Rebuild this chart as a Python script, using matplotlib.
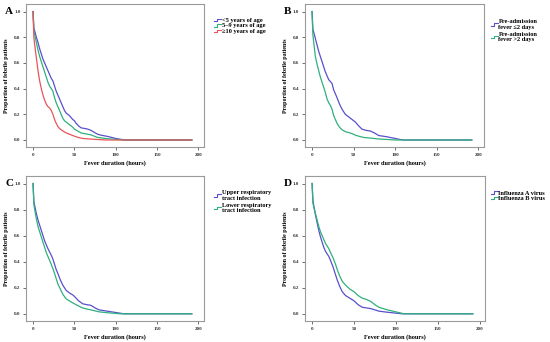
import matplotlib
matplotlib.use("Agg")
import matplotlib.pyplot as plt
from matplotlib.legend_handler import HandlerBase
from matplotlib.lines import Line2D

# ---------------- data ----------------
# Panel A: age groups
a_blue_t = [0, 1, 2, 4, 6, 8, 10, 12, 14, 16, 18, 20, 22, 24, 26, 28, 30, 32, 34, 36, 38, 40, 44, 48, 50, 52, 55, 58, 62, 66, 70, 74, 78, 82, 86, 90, 95, 100, 105, 110, 115, 192]
a_blue_s = [1.0, 0.87, 0.85, 0.80, 0.76, 0.71, 0.67, 0.63, 0.60, 0.57, 0.54, 0.51, 0.48, 0.46, 0.42, 0.38, 0.35, 0.32, 0.29, 0.26, 0.23, 0.21, 0.19, 0.16, 0.15, 0.13, 0.11, 0.095, 0.09, 0.085, 0.075, 0.06, 0.045, 0.038, 0.033, 0.028, 0.02, 0.012, 0.006, 0.002, 0.0, 0.0]
a_green_t = [0, 1, 2, 4, 6, 8, 10, 12, 14, 16, 18, 20, 22, 24, 26, 28, 30, 32, 34, 36, 38, 40, 44, 48, 50, 54, 58, 62, 66, 70, 74, 78, 84, 90, 100, 110, 192]
a_green_s = [1.0, 0.84, 0.82, 0.76, 0.70, 0.65, 0.61, 0.57, 0.53, 0.49, 0.45, 0.42, 0.40, 0.38, 0.33, 0.29, 0.26, 0.23, 0.20, 0.17, 0.15, 0.14, 0.12, 0.10, 0.085, 0.07, 0.055, 0.05, 0.045, 0.04, 0.03, 0.02, 0.015, 0.01, 0.005, 0.0, 0.0]
a_red_t = [0, 1, 2, 4, 6, 8, 10, 12, 14, 16, 18, 20, 22, 24, 26, 28, 30, 32, 35, 40, 44, 48, 52, 56, 60, 70, 80, 90, 192]
a_red_s = [1.0, 0.80, 0.74, 0.64, 0.54, 0.46, 0.40, 0.35, 0.31, 0.28, 0.26, 0.25, 0.23, 0.20, 0.16, 0.13, 0.105, 0.09, 0.075, 0.055, 0.045, 0.035, 0.025, 0.018, 0.012, 0.007, 0.003, 0.0, 0.0]

# Panel B: pre-admission fever
b_blue_t = [0, 1, 2, 4, 6, 8, 10, 12, 14, 16, 18, 20, 22, 24, 26, 28, 30, 33, 36, 40, 44, 48, 52, 56, 60, 65, 70, 75, 80, 85, 90, 95, 100, 105, 110, 192]
b_blue_s = [1.0, 0.86, 0.84, 0.79, 0.74, 0.69, 0.65, 0.61, 0.57, 0.53, 0.50, 0.47, 0.455, 0.44, 0.39, 0.36, 0.33, 0.28, 0.24, 0.20, 0.18, 0.16, 0.14, 0.11, 0.085, 0.075, 0.07, 0.055, 0.035, 0.03, 0.025, 0.018, 0.012, 0.005, 0.0, 0.0]
b_green_t = [0, 1, 2, 4, 6, 8, 10, 12, 14, 16, 18, 20, 22, 24, 26, 28, 30, 33, 36, 40, 44, 48, 52, 57, 62, 70, 80, 90, 100, 192]
b_green_s = [1.0, 0.82, 0.76, 0.65, 0.59, 0.54, 0.49, 0.45, 0.41, 0.37, 0.32, 0.29, 0.27, 0.24, 0.19, 0.16, 0.13, 0.10, 0.08, 0.065, 0.058, 0.05, 0.038, 0.028, 0.02, 0.015, 0.008, 0.004, 0.0, 0.0]

# Panel C: infection site
c_blue_t = [0, 1, 2, 4, 6, 8, 10, 12, 14, 16, 18, 20, 22, 24, 26, 28, 30, 33, 36, 40, 44, 48, 50, 55, 60, 65, 70, 75, 80, 90, 100, 110, 192]
c_blue_s = [1.0, 0.86, 0.83, 0.77, 0.72, 0.68, 0.64, 0.60, 0.56, 0.53, 0.50, 0.475, 0.45, 0.42, 0.38, 0.34, 0.31, 0.26, 0.22, 0.18, 0.16, 0.145, 0.134, 0.10, 0.077, 0.07, 0.065, 0.045, 0.03, 0.02, 0.01, 0.0, 0.0]
c_green_t = [0, 1, 2, 4, 6, 8, 10, 12, 14, 16, 18, 20, 22, 25, 28, 30, 33, 36, 40, 45, 50, 55, 60, 65, 70, 80, 90, 100, 105, 192]
c_green_s = [1.0, 0.84, 0.80, 0.73, 0.67, 0.63, 0.59, 0.55, 0.51, 0.47, 0.44, 0.41, 0.38, 0.33, 0.27, 0.23, 0.19, 0.15, 0.115, 0.095, 0.077, 0.06, 0.045, 0.037, 0.03, 0.015, 0.008, 0.003, 0.0, 0.0]

# Panel D: influenza type
d_blue_t = [0, 1, 2, 4, 6, 8, 10, 12, 14, 16, 18, 20, 22, 25, 28, 30, 33, 36, 40, 45, 50, 55, 60, 65, 70, 75, 80, 90, 100, 108, 192]
d_blue_s = [1.0, 0.87, 0.83, 0.76, 0.70, 0.64, 0.59, 0.55, 0.51, 0.48, 0.46, 0.44, 0.41, 0.36, 0.30, 0.26, 0.21, 0.17, 0.14, 0.12, 0.10, 0.07, 0.05, 0.045, 0.04, 0.03, 0.02, 0.012, 0.005, 0.0, 0.0]
d_green_t = [0, 1, 2, 4, 6, 8, 10, 12, 14, 16, 18, 20, 22, 25, 28, 30, 33, 36, 40, 45, 50, 55, 60, 65, 70, 75, 80, 90, 100, 110, 192]
d_green_s = [1.0, 0.85, 0.82, 0.77, 0.72, 0.67, 0.63, 0.60, 0.57, 0.54, 0.52, 0.50, 0.47, 0.43, 0.38, 0.34, 0.29, 0.25, 0.22, 0.19, 0.17, 0.14, 0.12, 0.11, 0.095, 0.07, 0.05, 0.03, 0.015, 0.0, 0.0]

a_labels = ["<5 years of age", "5\u20139 years of age", "\u226510 years of age"]
b_labels = ["Pre-admission\nfever \u22642 days", "Pre-admission\nfever >2 days"]
c_labels = ["Upper respiratory\ntract infection", "Lower respiratory\ntract infection"]
d_labels = ["Influenza A virus", "Influenza B virus"]

x_ticks = [0, 50, 100, 150, 200]
y_ticks = [0.0, 0.2, 0.4, 0.6, 0.8, 1.0]

BLUE = "#5850cc"
GREEN = "#2fb07c"
RED = "#e8555a"

plt.rcParams['font.family'] = ['Liberation Serif', 'DejaVu Serif']
plt.rcParams['font.weight'] = 'bold'


class StepHandler(HandlerBase):
    def create_artists(self, legend, orig_handle, xdescent, ydescent, width, height, fontsize, trans):
        x0 = -xdescent
        y0 = -ydescent
        xs = [x0, x0 + width * 0.45, x0 + width * 0.45, x0 + width]
        ys = [y0 + height * 0.15, y0 + height * 0.15, y0 + height * 0.75, y0 + height * 0.75]
        ln = Line2D(xs, ys, color=orig_handle.get_color(), lw=0.8, transform=trans)
        return [ln]


fig = plt.figure(figsize=(5.5, 3.42), dpi=100)

panels = [
    ("A", [0.0473, 0.570, 0.324, 0.418], [(a_blue_t, a_blue_s, BLUE), (a_green_t, a_green_s, GREEN), (a_red_t, a_red_s, RED)], a_labels, (0.383, 0.96), 0.0),
    ("B", [0.5545, 0.570, 0.326, 0.418], [(b_blue_t, b_blue_s, BLUE), (b_green_t, b_green_s, GREEN)], b_labels, (0.886, 0.955), 0.25),
    ("C", [0.0473, 0.0615, 0.324, 0.424], [(c_blue_t, c_blue_s, BLUE), (c_green_t, c_green_s, GREEN)], c_labels, (0.383, 0.455), 0.25),
    ("D", [0.5545, 0.0615, 0.328, 0.424], [(d_blue_t, d_blue_s, BLUE), (d_green_t, d_green_s, GREEN)], d_labels, (0.886, 0.455), 0.0),
]

for letter, rect, series, labels, leg_pos, lsp in panels:
    ax = fig.add_axes(rect)
    handles = []
    for (t, s, c), lab in zip(series, labels):
        h, = ax.plot(t, s, color=c, lw=0.9, label=lab)
        handles.append(h)
    ax.set_xlim(-8.5, 207)
    ax.set_ylim(-0.055, 1.058)
    ax.set_xticks(x_ticks)
    ax.set_xticklabels([str(v) for v in x_ticks])
    ax.set_yticks(y_ticks)
    ax.set_yticklabels(["%.1f" % v for v in y_ticks])
    ax.tick_params(labelsize=3.6, length=2, width=0.5, pad=2, colors='#333333')
    for sp in ax.spines.values():
        sp.set_color('#9a9a9a')
        sp.set_linewidth(0.8)
    ax.set_xlabel("Fever duration (hours)", fontsize=4.6, fontweight='bold', labelpad=2.5)
    ax.set_ylabel("Proportion of febrile patients", fontsize=4.3, fontweight='bold', labelpad=3.5)
    leg = fig.legend(handles=handles, labels=labels, loc='upper left', bbox_to_anchor=leg_pos,
                     frameon=False, fontsize=4.6, handlelength=1.0, handletextpad=0.15,
                     labelspacing=lsp, borderpad=0.1,
                     handler_map={Line2D: StepHandler()})
    # panel letter
    bb = ax.get_position()
    fig.text(bb.x0 - 0.038, bb.y1 - 0.022, letter, fontsize=8, fontweight='bold', ha='left', va='center')

fig.savefig("out.png", dpi=100)
